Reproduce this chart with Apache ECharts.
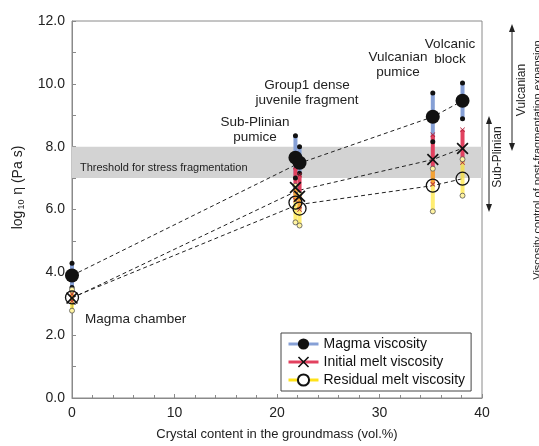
<!DOCTYPE html>
<html>
<head>
  <meta charset="utf-8">
  <title>Viscosity vs crystal content</title>
  <style type="text/css">
    html, body { margin: 0; padding: 0; background: #fff; }
    #chart { width: 539px; height: 446px; }
  </style>
</head>
<body>
  <div id="chart"></div>
  <script src="https://cdn.jsdelivr.net/npm/echarts@6/dist/echarts.min.js"></script>
  <script>
    // sample columns (crystal content, vol.%)
    var colX = [0, 21.8, 22.2, 35.2, 38.1];
    // magma viscosity: mean and range
    var magmaMean = [3.9, 7.65, 7.49, 8.95, 9.46];
    var magmaLow = [3.52, 7.0, 7.15, 8.16, 8.89];
    var magmaHigh = [4.29, 8.35, 8.0, 9.71, 10.03];
    // initial melt viscosity
    var initMean = [3.18, 6.7, 6.42, 7.59, 7.94];
    var initLow = [3.08, 6.3, 6.0, 6.8, 7.5];
    var initHigh = [3.3, 7.35, 7.1, 8.38, 8.54];
    // residual melt viscosity
    var resMean = [3.2, 6.22, 6.03, 6.76, 6.98];
    var resLow = [2.78, 5.59, 5.49, 5.94, 6.44];
    var resHigh = [3.45, 6.75, 6.5, 7.3, 7.6];
    // dashed trend lines
    var trendX = [0, 22, 35.2, 38.1];
    var magmaTrend = [3.9, 7.45, 8.95, 9.46];
    var initTrend = [3.18, 6.6, 7.59, 7.95];
    var resTrend = [3.2, 6.15, 6.76, 6.98];
    // fragmentation threshold band
    var band = [7.0, 8.0];

    var xTicks = [0, 10, 20, 30, 40];
    var yTicks = [0, 2, 4, 6, 8, 10, 12];

    var FONT = 'Liberation Sans';
    var BLUE = '#86a0d6', RED = '#e2415f', YELLOW = '#ffe21a';
    var crossPath = 'path://M0,1L1,0L5,4L9,0L10,1L6,5L10,9L9,10L5,6L1,10L0,9L4,5Z';

    function pairs(xs, ys) { return xs.map(function (x, i) { return [x, ys[i]]; }); }
    function ranges(lo, hi) { return colX.map(function (x, i) { return [x, lo[i], hi[i]]; }); }
    function ends(lo, hi) { return pairs(colX, lo).concat(pairs(colX, hi)); }

    function barRender(color, opacity) {
      return function (params, api) {
        var p1 = api.coord([api.value(0), api.value(1)]);
        var p2 = api.coord([api.value(0), api.value(2)]);
        return {
          type: 'line',
          shape: { x1: p1[0], y1: p1[1], x2: p2[0], y2: p2[1] },
          style: { stroke: color, lineWidth: 4, opacity: opacity }
        };
      };
    }

    function trend(name, data, symbol) {
      return {
        name: name, type: 'line', data: data, symbol: symbol, showSymbol: false,
        color: '#111', z: 2, silent: true,
        lineStyle: { color: '#222', width: 1, type: [4, 3] }
      };
    }

    var myChart = echarts.init(document.getElementById('chart'));
    var option = {
      animation: false,
      textStyle: { fontFamily: FONT },
      grid: { left: 72, right: 57, top: 21, bottom: 47, show: true, borderColor: '#8a8a8a', borderWidth: 1 },
      xAxis: {
        type: 'value', min: 0, max: 40, interval: 10,
        name: 'Crystal content in the groundmass (vol.%)', nameLocation: 'middle', nameGap: 30,
        nameTextStyle: { fontSize: 13, color: '#222', fontFamily: FONT },
        axisLine: { lineStyle: { color: '#8a8a8a' } },
        axisTick: { inside: true, length: 4, lineStyle: { color: '#8a8a8a' } },
        minorTick: { show: true, splitNumber: 5, length: 3, lineStyle: { color: '#8a8a8a' } },
        axisLabel: { fontSize: 14, color: '#222', margin: 8, customValues: xTicks },
        splitLine: { show: false }
      },
      yAxis: {
        type: 'value', min: 0, max: 12, interval: 2,
        name: '{a|log}{b|10}{a| η (Pa s)}', nameLocation: 'middle', nameGap: 46, nameRotate: 90,
        nameTextStyle: {
          padding: [0, 0, 0, 44],
          rich: {
            a: { fontSize: 14, color: '#222', fontFamily: FONT },
            b: { fontSize: 9, color: '#222', fontFamily: FONT, verticalAlign: 'bottom', padding: [6, 1, 0, 1] }
          }
        },
        axisLine: { show: true, lineStyle: { color: '#8a8a8a' } },
        axisTick: { show: true, inside: true, length: 4, lineStyle: { color: '#8a8a8a' } },
        minorTick: { show: true, splitNumber: 2, length: 4, lineStyle: { color: '#8a8a8a' } },
        axisLabel: {
          fontSize: 14, color: '#222', margin: 7, customValues: yTicks,
          formatter: function (v) { return v.toFixed(1); }
        },
        splitLine: { show: false }
      },
      legend: {
        orient: 'vertical', left: 281, top: 333,
        padding: [4, 6, 4, 6], itemGap: 4, itemWidth: 30, itemHeight: 14,
        borderColor: '#444', borderWidth: 1, backgroundColor: '#fff',
        textStyle: { fontSize: 14, color: '#111', fontFamily: FONT },
        data: [
          { name: 'Magma viscosity', itemStyle: { color: '#111' }, lineStyle: { color: BLUE, width: 3, type: 'solid' } },
          { name: 'Initial melt viscosity', itemStyle: { color: '#111' }, lineStyle: { color: RED, width: 3, type: 'solid' } },
          { name: 'Residual melt viscosity', itemStyle: { color: '#111' }, lineStyle: { color: YELLOW, width: 3, type: 'solid' } }
        ]
      },
      series: [
        {
          type: 'line', data: [], silent: true, z: 1,
          markArea: {
            silent: true,
            itemStyle: { color: '#d3d3d3' },
            label: { show: true, position: 'insideLeft', offset: [3, 6], fontSize: 11, color: '#222', fontFamily: FONT },
            data: [[{ yAxis: band[0], name: 'Threshold for stress fragmentation' }, { yAxis: band[1] }]]
          }
        },
        trend('Magma viscosity', pairs(trendX, magmaTrend), 'circle'),
        trend('Initial melt viscosity', pairs(trendX, initTrend), crossPath),
        trend('Residual melt viscosity', pairs(trendX, resTrend), 'emptyCircle'),
        { type: 'custom', z: 3, silent: true, renderItem: barRender(BLUE, 1), data: ranges(magmaLow, magmaHigh) },
        { type: 'custom', z: 3, silent: true, renderItem: barRender(RED, 1), data: ranges(initLow, initHigh) },
        { type: 'custom', z: 3, silent: true, renderItem: barRender(YELLOW, 0.62), data: ranges(resLow, resHigh) },
        // range end markers
        { type: 'scatter', z: 4, silent: true, symbol: 'circle', symbolSize: 5, itemStyle: { color: '#111', opacity: 1 }, data: ends(magmaLow, magmaHigh) },
        { type: 'scatter', z: 4, silent: true, symbol: crossPath, symbolSize: 5, itemStyle: { color: '#b0203a', opacity: 1 }, data: ends(initLow, initHigh) },
        { type: 'scatter', z: 4, silent: true, symbol: 'circle', symbolSize: 5, itemStyle: { color: '#fff3a0', borderColor: '#555', borderWidth: 0.8, opacity: 1 }, data: ends(resLow, resHigh) },
        // mean markers
        { type: 'scatter', z: 5, silent: true, symbol: 'circle', symbolSize: 14, itemStyle: { color: '#111', opacity: 1 }, data: pairs(colX, magmaMean) },
        { type: 'scatter', z: 5, silent: true, symbol: crossPath, symbolSize: 12, itemStyle: { color: '#111', opacity: 1 }, data: pairs(colX, initMean) },
        { type: 'scatter', z: 5, silent: true, symbol: 'circle', symbolSize: 13, itemStyle: { color: 'rgba(0,0,0,0)', borderColor: '#111', borderWidth: 1.3, opacity: 1 }, data: pairs(colX, resMean) }
      ],
      graphic: [
        { type: 'text', left: 85, top: 312, style: { text: 'Magma chamber', font: '13.5px ' + FONT, fill: '#222' } },
        { type: 'text', x: 255, y: 130, style: { text: 'Sub-Plinian\npumice', font: '13.5px ' + FONT, fill: '#222', align: 'center', verticalAlign: 'middle', lineHeight: 15 } },
        { type: 'text', x: 307, y: 93, style: { text: 'Group1 dense\njuvenile fragment', font: '13.5px ' + FONT, fill: '#222', align: 'center', verticalAlign: 'middle', lineHeight: 15 } },
        { type: 'text', x: 398, y: 65, style: { text: 'Vulcanian\npumice', font: '13.5px ' + FONT, fill: '#222', align: 'center', verticalAlign: 'middle', lineHeight: 15 } },
        { type: 'text', x: 450, y: 52, style: { text: 'Volcanic\nblock', font: '13.5px ' + FONT, fill: '#222', align: 'center', verticalAlign: 'middle', lineHeight: 15 } },
        // right-hand arrows
        { type: 'line', shape: { x1: 512, y1: 30, x2: 512, y2: 145 }, style: { stroke: '#222', lineWidth: 1 } },
        { type: 'polygon', shape: { points: [[512, 24], [509, 32], [515, 32]] }, style: { fill: '#222' } },
        { type: 'polygon', shape: { points: [[512, 151], [509, 143], [515, 143]] }, style: { fill: '#222' } },
        { type: 'line', shape: { x1: 489, y1: 122, x2: 489, y2: 206 }, style: { stroke: '#222', lineWidth: 1 } },
        { type: 'polygon', shape: { points: [[489, 116], [486, 124], [492, 124]] }, style: { fill: '#222' } },
        { type: 'polygon', shape: { points: [[489, 212], [486, 204], [492, 204]] }, style: { fill: '#222' } },
        { type: 'text', x: 522, y: 90, rotation: Math.PI / 2, style: { text: 'Vulcanian', font: '12px ' + FONT, fill: '#222', align: 'center', verticalAlign: 'middle' } },
        { type: 'text', x: 498, y: 157, rotation: Math.PI / 2, style: { text: 'Sub-Plinian', font: '12px ' + FONT, fill: '#222', align: 'center', verticalAlign: 'middle' } },
        { type: 'text', x: 538, y: 160, rotation: Math.PI / 2, style: { text: 'Viscosity control of post-fragmentation expansion', font: '11px ' + FONT, fill: '#222', align: 'center', verticalAlign: 'middle' } }
      ]
    };
    myChart.setOption(option);
  </script>
</body>
</html>
